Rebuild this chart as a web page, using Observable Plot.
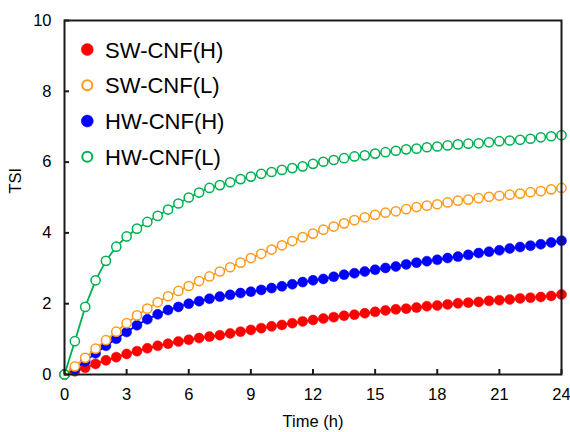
<!DOCTYPE html>
<html>
<head>
<meta charset="utf-8">
<script src="https://cdn.jsdelivr.net/npm/d3@7"></script>
<script src="https://cdn.jsdelivr.net/npm/@observablehq/plot@0.6"></script>
<style>
  html, body { margin: 0; padding: 0; background: #fff; }
  #chart svg { display: block; }
</style>
</head>
<body>
<div id="chart"></div>
<script>
const time = [0,0.5,1,1.5,2,2.5,3,3.5,4,4.5,5,5.5,6,6.5,7,7.5,8,8.5,9,9.5,10,10.5,11,11.5,12,12.5,13,13.5,14,14.5,15,15.5,16,16.5,17,17.5,18,18.5,19,19.5,20,20.5,21,21.5,22,22.5,23,23.5,24];

const swH = [0,0.09,0.19,0.30,0.40,0.49,0.58,0.66,0.74,0.81,0.87,0.93,0.98,1.03,1.07,1.11,1.16,1.21,1.26,1.31,1.36,1.40,1.45,1.50,1.54,1.58,1.62,1.66,1.69,1.73,1.77,1.81,1.84,1.86,1.89,1.93,1.95,1.98,2.01,2.03,2.05,2.08,2.10,2.12,2.15,2.17,2.19,2.22,2.26];
const swL = [0,0.23,0.47,0.73,0.97,1.21,1.45,1.67,1.86,2.04,2.21,2.36,2.50,2.64,2.77,2.91,3.03,3.16,3.29,3.41,3.53,3.65,3.77,3.88,3.98,4.09,4.18,4.27,4.36,4.44,4.51,4.57,4.61,4.67,4.73,4.77,4.81,4.86,4.91,4.94,4.98,5.02,5.05,5.08,5.11,5.15,5.18,5.23,5.27];
const hwH = [0,0.16,0.37,0.60,0.81,1.01,1.20,1.39,1.56,1.70,1.82,1.91,2.00,2.07,2.14,2.20,2.25,2.30,2.34,2.39,2.44,2.49,2.55,2.61,2.66,2.70,2.76,2.82,2.86,2.91,2.96,3.01,3.05,3.11,3.16,3.20,3.24,3.29,3.33,3.38,3.43,3.47,3.51,3.56,3.60,3.64,3.68,3.73,3.78];
const hwL = [0,0.94,1.91,2.66,3.21,3.61,3.90,4.12,4.31,4.48,4.66,4.83,5.00,5.14,5.27,5.35,5.43,5.52,5.59,5.67,5.72,5.78,5.83,5.88,5.95,6.01,6.06,6.11,6.16,6.19,6.24,6.28,6.32,6.36,6.38,6.42,6.44,6.47,6.50,6.52,6.53,6.56,6.59,6.61,6.63,6.66,6.70,6.73,6.76];

const seriesNames = ["SW-CNF(H)", "SW-CNF(L)", "HW-CNF(H)", "HW-CNF(L)"];
const seriesValues = [swH, swL, hwH, hwL];
const seriesColors = ["#ff0000", "#ff9a1a", "#0000ff", "#00b050"];
const seriesFilled = [true, false, true, false];
const drawOrder = [0, 2, 1, 3];

const xTicks = [0, 3, 6, 9, 12, 15, 18, 21, 24];
const yTicks = [0, 2, 4, 6, 8, 10];

const W = 570, H = 432;
const mL = 64, mR = 9, mT = 20, mB = 58;
const plotW = W - mL - mR, plotH = H - mT - mB;
const tickLenX = 5 * 24 / plotW;   // tick length in data units
const tickLenY = 5 * 10 / plotH;
const axisColor = "#1a1a1a";

const marks = [];
for (const s of drawOrder) {
  const rows = time.map((t, i) => ({t, v: seriesValues[s][i]}));
  marks.push(Plot.line(rows, {x: "t", y: "v", stroke: seriesColors[s], strokeWidth: 1.8}));
  marks.push(Plot.dot(rows, {
    x: "t", y: "v", r: seriesFilled[s] ? 5 : 4.6,
    fill: seriesFilled[s] ? seriesColors[s] : "#fff",
    stroke: seriesColors[s], strokeWidth: seriesFilled[s] ? 0.5 : 1.5
  }));
}

// legend (inside plot area, positioned in data units)
const legendRows = seriesNames.map((name, i) => ({name, i, y: 9.18 - i * 1.01}));
for (const row of legendRows) {
  const filled = seriesFilled[row.i];
  marks.push(Plot.dot([row], {
    x: 1.1, y: "y",
    r: filled ? 6 : 5,
    fill: filled ? seriesColors[row.i] : "#fff",
    stroke: seriesColors[row.i],
    strokeWidth: filled ? 0.5 : 2
  }));
}
marks.push(Plot.text(legendRows, {
  x: 1.96, y: "y", text: "name", textAnchor: "start", lineAnchor: "middle", fontSize: 22, fill: "#000", dy: 1
}));

// inward ticks
marks.push(Plot.ruleX(xTicks, {x: d => d, y1: 0, y2: tickLenY, stroke: axisColor, strokeWidth: 2}));
marks.push(Plot.ruleY(yTicks, {y: d => d, x1: 0, x2: tickLenX, stroke: axisColor, strokeWidth: 2}));

// tick labels
marks.push(Plot.axisX({ticks: xTicks, tickSize: 0, tickPadding: 14, fontSize: 16.5, label: null, tickFormat: d => String(d)}));
marks.push(Plot.axisY({ticks: yTicks, tickSize: 0, tickPadding: 13, fontSize: 16.5, label: null, tickFormat: d => String(d)}));

// axis titles
marks.push(Plot.text(["Time (h)"], {frameAnchor: "bottom", lineAnchor: "middle", dy: 47, text: d => d, fontSize: 16.5, fill: "#000"}));
marks.push(Plot.text(["TSI"], {frameAnchor: "left", lineAnchor: "middle", dx: -49, dy: -4, rotate: -90, text: d => d, fontSize: 16.5, fill: "#000"}));

marks.push(Plot.frame({stroke: axisColor, strokeWidth: 2}));

const chart = Plot.plot({
  width: W, height: H,
  marginLeft: mL, marginRight: mR, marginTop: mT, marginBottom: mB,
  x: {domain: [0, 24]},
  y: {domain: [0, 10]},
  style: {fontFamily: "'Liberation Sans', Arial, sans-serif", fontSize: "16px", color: "#000", background: "#fff", overflow: "visible"},
  marks
});
document.getElementById("chart").appendChild(chart);
</script>
</body>
</html>
